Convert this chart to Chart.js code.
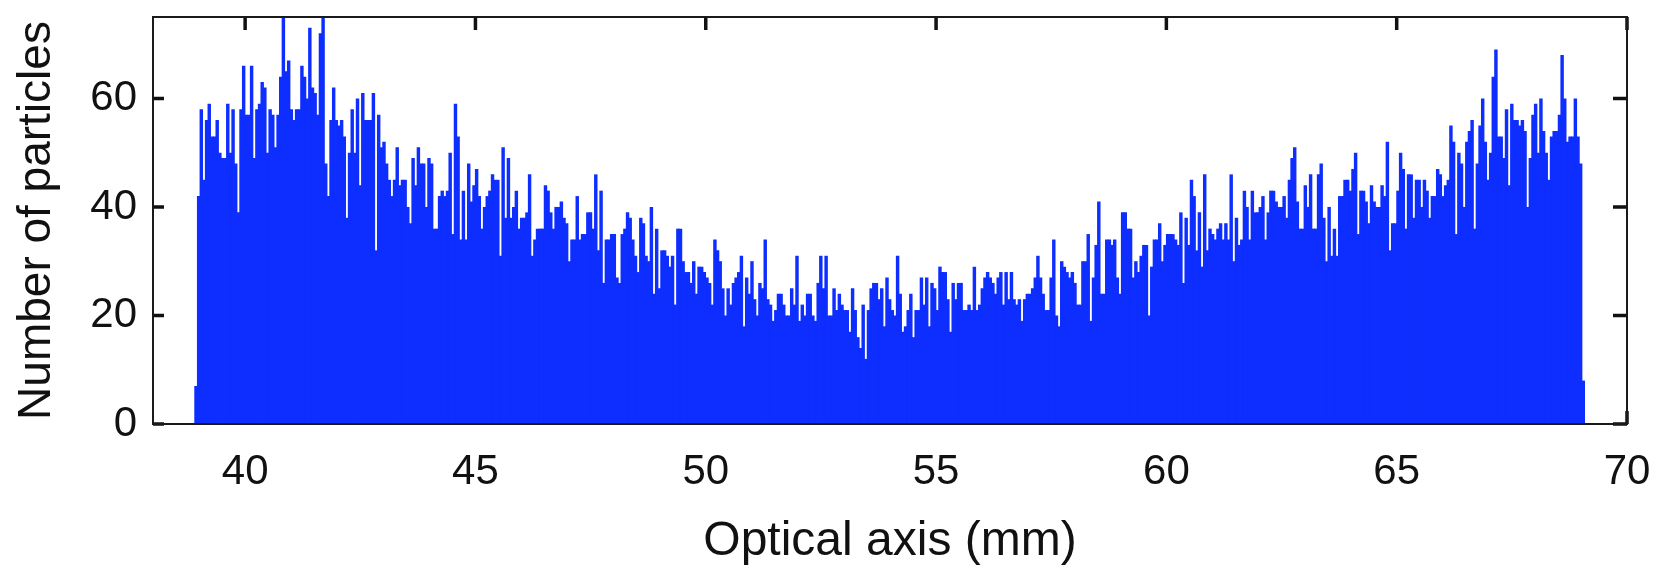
<!DOCTYPE html>
<html>
<head>
<meta charset="utf-8">
<title>Particles along the optical axis</title>
<script src="https://cdn.jsdelivr.net/npm/chart.js@4.4.1/dist/chart.umd.min.js"></script>
<style>
  html, body { margin: 0; padding: 0; background: #fff; }
  #wrap { width: 1662px; height: 566px; position: relative; }
</style>
</head>
<body>
<div id="wrap"><canvas id="hist"></canvas></div>
<script>
'use strict';

// histogram range (mm) and counts per bin, left to right
var BIN_START = 38.905, BIN_END = 69.08;
var counts = [
  7,42,58,45,56,59,53,53,56,50,49,49,59,50,58,48,39,58,66,57,
  57,66,49,58,59,63,62,50,58,57,51,57,64,76,65,67,58,56,58,58,
  66,64,60,73,62,61,57,72,76,48,42,56,62,56,55,56,53,38,50,58,
  50,60,44,61,56,56,56,61,32,57,51,52,48,45,42,45,51,44,45,45,
  40,37,49,44,51,48,48,40,49,48,36,36,42,43,42,43,50,35,59,53,
  34,43,34,48,41,44,47,42,36,40,42,43,46,45,45,31,51,38,49,38,
  40,43,36,38,38,39,46,31,34,36,36,36,44,43,39,36,40,40,41,38,
  37,30,34,34,42,34,35,35,39,39,36,46,32,43,26,34,34,35,35,27,
  26,35,36,39,38,34,31,28,38,37,31,30,40,24,36,25,
  32,32,31,29,31,22,36,36,30,28,28,26,30,24,29,29,28,27,26,22,
  34,32,30,25,20,25,22,26,27,28,31,18,27,24,30,23,20,26,25,34,
  23,22,19,21,24,24,22,20,20,25,22,31,19,22,20,24,24,20,19,26,
  31,25,31,20,20,25,21,24,22,21,21,17,25,21,16,14,22,12,21,25,
  26,26,23,25,18,27,23,21,20,31,24,17,18,21,24,16,21,21,27,22,
  27,18,26,25,21,29,28,28,23,17,26,23,26,26,21,21,22,21,29,21,
  22,25,27,28,27,26,24,27,28,22,28,23,28,23,22,23,19,23,24,24,
  25,27,31,27,24,21,21,27,34,20,18,30,29,28,27,28,26,22,22,30,
  30,35,19,27,33,41,24,24,34,34,33,34,27,24,39,
  39,36,36,27,30,28,31,33,33,20,29,34,34,37,30,33,35,35,35,34,
  33,39,26,38,33,45,42,32,39,29,46,32,36,35,34,36,37,34,37,34,
  46,30,38,33,34,43,40,34,43,39,39,40,42,34,39,43,43,41,40,40,
  42,38,45,49,51,41,36,36,44,40,46,36,36,46,48,38,30,40,31,36,
  31,42,42,45,45,43,47,50,35,43,43,41,37,44,41,40,40,44,42,52,
  32,37,37,43,50,47,36,46,46,38,45,45,40,45,43,38,42,42,47,46,
  42,44,45,55,52,35,50,48,40,52,54,56,36,48,55,60,52,45,50,64,
  69,53,53,49,58,44,59,56,56,55,56,54,40,49,57,59,50,60,54,50,
  45,53,54,54,57,68,60,52,53,53,60,53,48,8
];
var xTicks = [40, 45, 50, 55, 60, 65, 70];
var yTicks = [0, 20, 40, 60];

var binW = (BIN_END - BIN_START) / counts.length;
var points = counts.map(function (c, i) { return { x: BIN_START + (i + 0.5) * binW, y: c }; });

var FONT = '"Liberation Sans", Arial, Helvetica, sans-serif';

// box frame with inward tick marks on all four sides
function drawTicks(chart, sides) {
  var ctx = chart.ctx, a = chart.chartArea, xs = chart.scales.x, ys = chart.scales.y;
  ctx.save();
  ctx.strokeStyle = '#111';
  ctx.lineWidth = 3.5;
  ctx.beginPath();
  xTicks.forEach(function (v) {
    var px = xs.getPixelForValue(v);
    if (sides.top) { ctx.moveTo(px, a.top); ctx.lineTo(px, a.top + 13); }
    if (sides.bottom) { ctx.moveTo(px, a.bottom); ctx.lineTo(px, a.bottom - 13); }
  });
  yTicks.forEach(function (v) {
    var py = ys.getPixelForValue(v);
    if (sides.left) { ctx.moveTo(a.left, py); ctx.lineTo(a.left + 11, py); }
    if (sides.right) { ctx.moveTo(a.right, py); ctx.lineTo(a.right - 14, py); }
  });
  ctx.stroke();
  ctx.restore();
}

var boxFrame = {
  id: 'boxFrame',
  beforeDatasetsDraw: function (chart) {
    drawTicks(chart, { bottom: true });
  },
  afterDatasetsDraw: function (chart) {
    var ctx = chart.ctx, a = chart.chartArea;
    drawTicks(chart, { top: true, left: true, right: true });
    ctx.save();
    ctx.strokeStyle = '#1a1a1a';
    ctx.lineWidth = 2;
    ctx.strokeRect(a.left, a.top, a.right - a.left, a.bottom - a.top);
    ctx.restore();
  }
};

new Chart(document.getElementById('hist'), {
  type: 'bar',
  data: {
    datasets: [{
      data: points,
      backgroundColor: 'rgb(14,46,255)',
      borderWidth: 0,
      barPercentage: 1.3,
      categoryPercentage: 1
    }]
  },
  options: {
    responsive: true,
    maintainAspectRatio: false,
    animation: false,
    layout: { padding: { top: 17, right: 35, left: 0, bottom: 0 } },
    plugins: { legend: { display: false }, tooltip: { enabled: false } },
    scales: {
      x: {
        type: 'linear', min: 38, max: 70, offset: false,
        grid: { display: false, drawTicks: false },
        border: { display: false },
        afterBuildTicks: function (s) { s.ticks = xTicks.map(function (v) { return { value: v }; }); },
        afterFit: function (s) { s.height = 142; s.paddingLeft = 0; s.paddingRight = 0; },
        ticks: { color: '#111', padding: 23, maxRotation: 0, font: { family: FONT, size: 42 } },
        title: { display: true, text: 'Optical axis (mm)', color: '#111', padding: { top: 0, bottom: 0 },
                 font: { family: FONT, size: 48, lineHeight: 1.0 } }
      },
      y: {
        min: 0, max: 75,
        grid: { display: false, drawTicks: false },
        border: { display: false },
        afterBuildTicks: function (s) { s.ticks = yTicks.map(function (v) { return { value: v }; }); },
        afterFit: function (s) { s.width = 153; s.paddingTop = 0; s.paddingBottom = 0; },
        ticks: { color: '#111', padding: 16, font: { family: FONT, size: 42 } },
        title: { display: true, text: 'Number of particles', color: '#111', padding: { top: 10, bottom: 0 },
                 font: { family: FONT, size: 46, lineHeight: 1.2 } }
      }
    }
  },
  plugins: [boxFrame]
});
</script>
</body>
</html>
